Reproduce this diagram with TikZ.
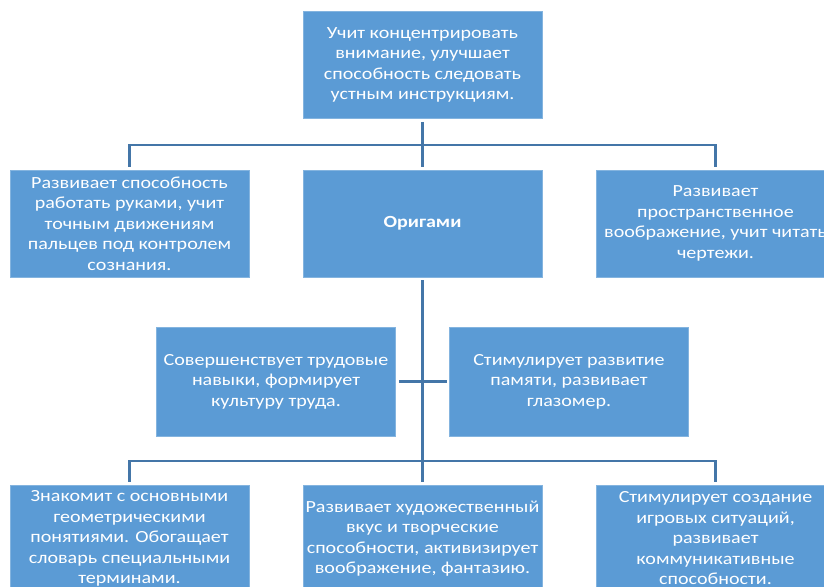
\documentclass[tikz,border=0pt]{standalone}
\usepackage{fontspec}
\setmainfont[FakeStretch=1.18]{Carlito}
\usetikzlibrary{positioning}
\definecolor{boxblue}{RGB}{91,155,213}
\definecolor{lineblue}{RGB}{68,118,168}
\colorlet{boxedge}{boxblue!75!white}

\begin{document}
\begin{tikzpicture}[
		x=1pt, y=-1pt,
		every node/.style={
			font=\fontsize{17}{20.5}\selectfont,
			white
		},
		skill/.style={
			rectangle, fill=boxblue, draw=boxedge, line width=0.8pt,
			minimum width=\bw pt, minimum height=\bh pt,
			align=center, inner sep=0pt
		},
		conn/.style={lineblue, line width=2.6pt, shorten <=3pt, shorten >=3pt}
	]

	\def\bw{239}
	\def\bh{107}

	\useasboundingbox (0,0) rectangle (824,586);
	\clip (0,0) rectangle (824,586);

	% top row
	\node[skill] (attention) at (422.5,65) {Учит концентрировать\\ внимание, улучшает\\ способность следовать\\ устным инструкциям.};

	% second row
	\node[skill] (hands) at (129.5,223.5) {Развивает способность\\ работать руками, учит\\ точным движениям\\ пальцев под контролем\\ сознания.};
	\node[skill] (origami) at (422.5,223.5) {\textbf{Оригами}};
	\node[skill] (space) at (715.5,223.5) {Развивает\\ пространственное\\ воображение, учит читать\\ чертежи.};

	% middle row
	\node[skill, minimum height=109pt] (labour) at (276,381.5) {Совершенствует трудовые\\ навыки, формирует\\ культуру труда.};
	\node[skill, minimum height=109pt] (memory) at (569,381.5) {Стимулирует развитие\\ памяти, развивает\\ глазомер.};

	% bottom row
	\node[skill] (geometry) at (129.5,538.5) {Знакомит с основными\\ геометрическими\\ понятиями. Обогащает\\ словарь специальными\\ терминами.};
	\node[skill] (art) at (422.5,538.5) {Развивает художественный\\ вкус и творческие\\ способности, активизирует\\ воображение, фантазию.};
	\node[skill] (games) at (715.5,538.5) {Стимулирует создание\\ игровых ситуаций,\\ развивает\\ коммуникативные\\ способности.};

	\coordinate (bustop) at (422.5,145);
	\coordinate (busbottom) at (422.5,461);

	\draw[conn] (attention) -- (origami);
	\draw[conn] (hands) |- (bustop) -| (space);
	\draw[conn] (origami) -- (art);
	\draw[conn] (geometry) |- (busbottom) -| (games);
	\draw[conn, shorten >=2pt] (labour) -- (memory);

\end{tikzpicture}
\end{document}
